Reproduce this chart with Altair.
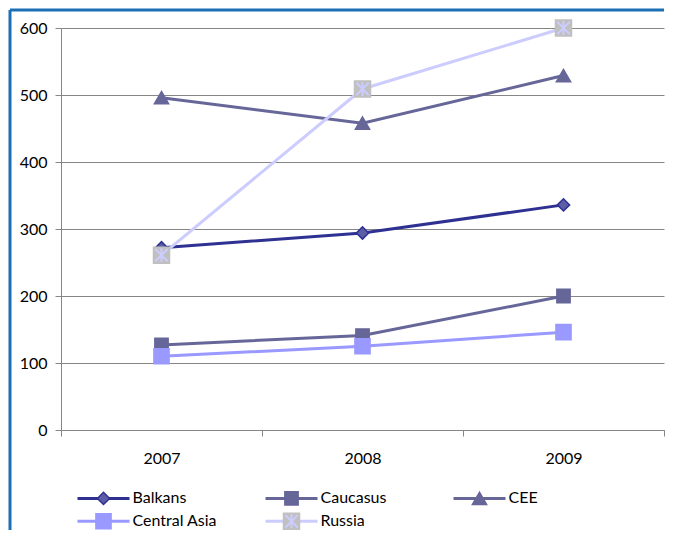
import altair as alt
import pandas as pd

years = ["2007", "2008", "2009"]
series = ["Balkans", "Caucasus", "CEE", "Central Asia", "Russia"]
balkans = [272, 294, 336]
caucasus = [127, 141, 200]
cee = [496, 458, 529]
central_asia = [110, 125, 146]
russia = [261, 509, 600]

line_colors = ["#2e3192", "#666699", "#666699", "#9999ff", "#ccccff"]
marker_fills = ["#5b5ea6", "#666699", "#666699", "#9999ff", "#c0c0c0"]
marker_strokes = ["#2e3192", "#666699", "#666699", "#9999ff", "#c0c0c0"]
marker_shapes = ["diamond", "square", "triangle-up", "square", "square"]
marker_sizes = [150, 256, 300, 256, 270]
asterisk = "M0,-0.85L0,0.85M-0.75,-0.75L0.75,0.75M-0.75,0.75L0.75,-0.75"

rows = []
for s, vals in zip(series, [balkans, caucasus, cee, central_asia, russia]):
    for yr, v in zip(years, vals):
        rows.append({"series": s, "year": yr, "value": v})
df = pd.DataFrame(rows)

W, H = 603, 402
GRID = "#868686"
FS = 16
noview = alt.ViewBackground(stroke="transparent", strokeWidth=0)

x = alt.X("year:N", sort=years,
          scale=alt.Scale(type="band", paddingInner=0, paddingOuter=0),
          axis=alt.Axis(title=None, labelAngle=0, tickBand="extent", tickSize=6,
                        tickColor=GRID, domainColor=GRID, labelPadding=14,
                        labelFontSize=FS, labelColor="#000000", labelFont="Lato"))
y = alt.Y("value:Q", scale=alt.Scale(domain=[0, 600], nice=False),
          axis=alt.Axis(title=None, values=[0, 100, 200, 300, 400, 500, 600],
                        grid=True, gridColor=GRID, domainColor=GRID, tickColor=GRID,
                        tickSize=6, labelPadding=8, labelFontSize=FS,
                        labelColor="#000000", labelFont="Lato"))

color_s = alt.Scale(domain=series, range=line_colors)
fill_s = alt.Scale(domain=series, range=marker_fills)
stroke_s = alt.Scale(domain=series, range=marker_strokes)
shape_s = alt.Scale(domain=series, range=marker_shapes)
size_s = alt.Scale(domain=series, range=marker_sizes)

base = alt.Chart(df)
lines = base.mark_line(strokeWidth=3).encode(
    x=x, y=y, color=alt.Color("series:N", scale=color_s, legend=None))
points = base.mark_point(filled=True, opacity=1, strokeWidth=1.5).encode(
    x=x, y=y,
    shape=alt.Shape("series:N", scale=shape_s, legend=None),
    fill=alt.Fill("series:N", scale=fill_s, legend=None),
    stroke=alt.Stroke("series:N", scale=stroke_s, legend=None),
    size=alt.Size("series:N", scale=size_s, legend=None))
stars = base.transform_filter(alt.datum.series == "Russia").mark_point(
    shape=asterisk, size=270, stroke="#ccccff", strokeWidth=2, filled=False, opacity=1
).encode(x=x, y=y)

deco = pd.DataFrame({"k": [0]})
hline = alt.Chart(deco).mark_rule(color="#1a6fb5", strokeWidth=3).encode(
    x=alt.value(-51), x2=alt.value(W), y=alt.value(-18))
vline = alt.Chart(deco).mark_rule(color="#1a6fb5", strokeWidth=3).encode(
    x=alt.value(-51), y=alt.value(-18), y2=alt.value(502))

main = alt.layer(hline, vline, lines, points, stars).properties(
    width=W, height=H, view=noview)

leg = pd.DataFrame({"series": series,
                    "col": [i % 3 for i in range(len(series))],
                    "row": [i // 3 for i in range(len(series))]})
lx = alt.X("col:Q", scale=alt.Scale(domain=[0, 3]), axis=None)
ly = alt.Y("row:Q", scale=alt.Scale(domain=[-0.5, 1.25], reverse=True), axis=None)
lbase = alt.Chart(leg)
l_lines = lbase.mark_tick(orient="horizontal", size=52, thickness=3, xOffset=42.5, opacity=1).encode(
    x=lx, y=ly, color=alt.Color("series:N", scale=color_s, legend=None))
l_pts = lbase.mark_point(filled=True, opacity=1, strokeWidth=1.5, xOffset=42.5).encode(
    x=lx, y=ly,
    shape=alt.Shape("series:N", scale=shape_s, legend=None),
    fill=alt.Fill("series:N", scale=fill_s, legend=None),
    stroke=alt.Stroke("series:N", scale=stroke_s, legend=None),
    size=alt.Size("series:N", scale=size_s, legend=None))
l_stars = lbase.transform_filter(alt.datum.series == "Russia").mark_point(
    shape=asterisk, size=270, stroke="#ccccff", strokeWidth=2, filled=False, opacity=1,
    xOffset=42.5).encode(x=lx, y=ly)
l_text = lbase.mark_text(align="left", baseline="middle", dx=71.5, fontSize=FS,
                         font="Lato", color="#000000").encode(x=lx, y=ly, text="series:N")
legend = alt.layer(l_lines, l_pts, l_stars, l_text).properties(
    width=564, height=40, view=noview)

chart = alt.vconcat(main, legend, spacing=57, bounds="flush").properties(
    padding=0
).configure_view(strokeWidth=0, stroke="transparent").configure(font="Lato")

chart.save("out.html", embed_options={"renderer": "svg", "actions": False})
